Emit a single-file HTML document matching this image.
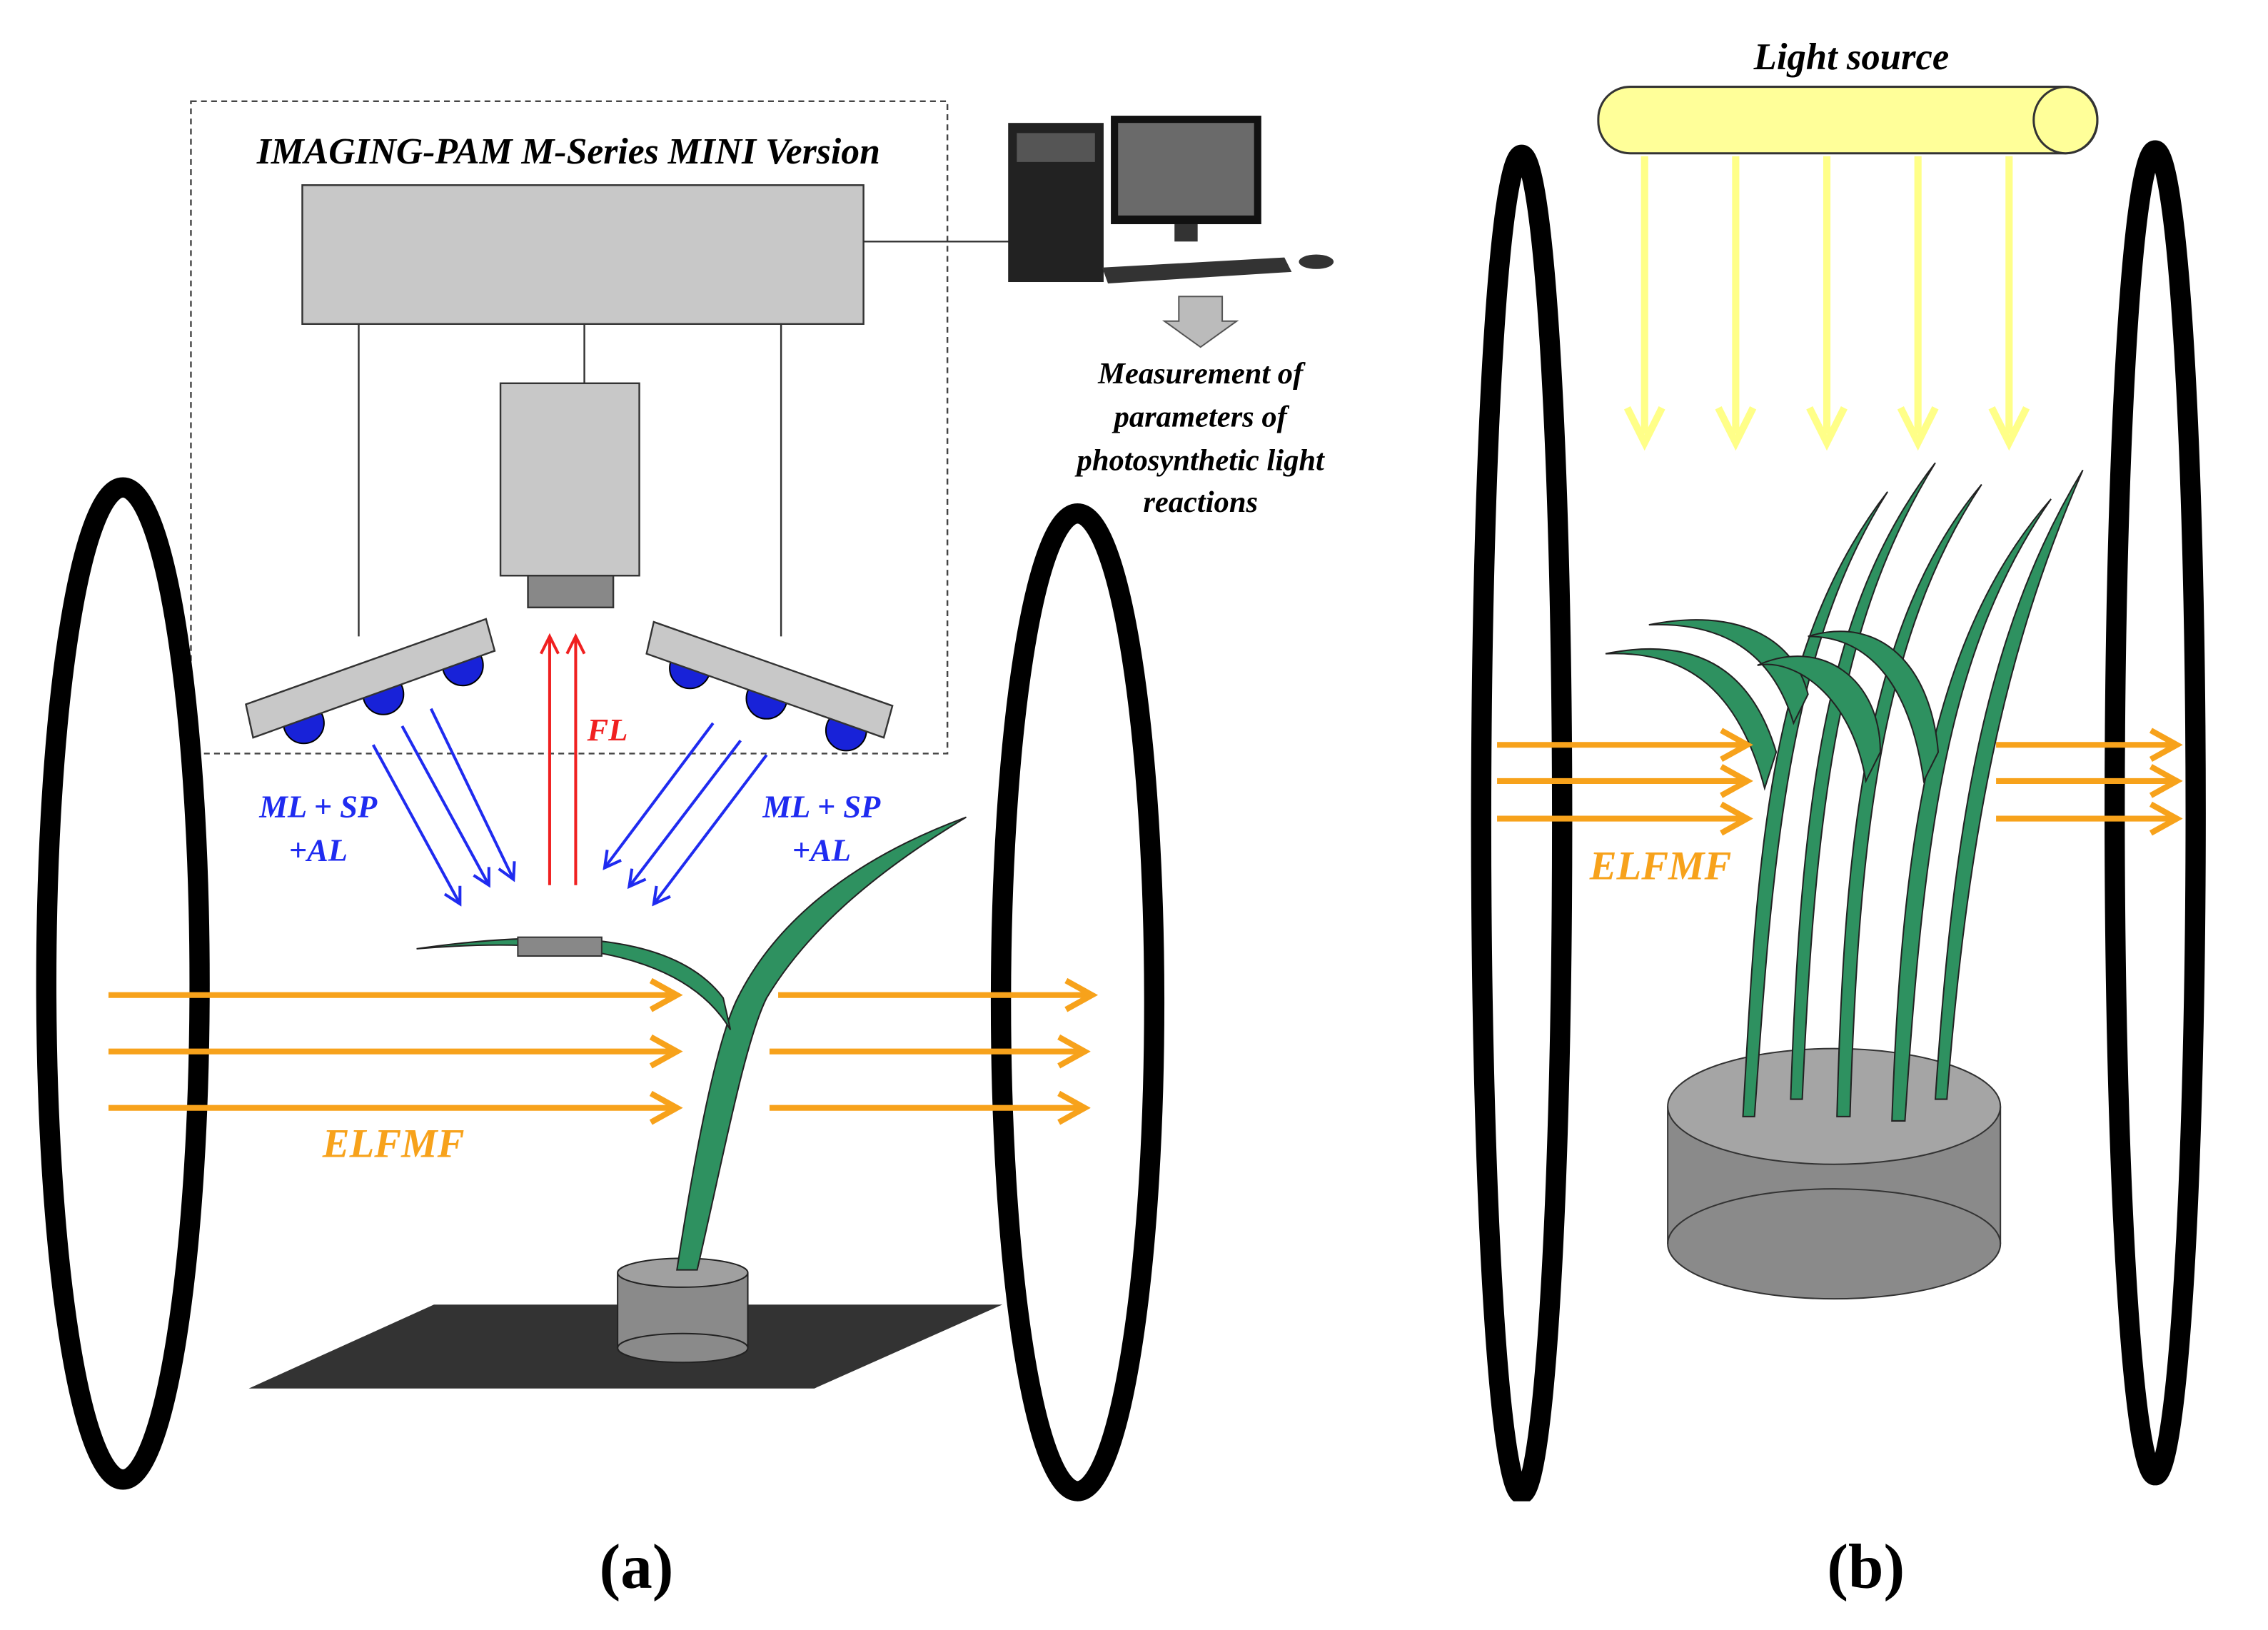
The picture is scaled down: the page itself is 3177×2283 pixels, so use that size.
<!DOCTYPE html>
<html><head><meta charset="utf-8"><style>html,body{margin:0;padding:0;background:#fff}svg{display:block}</style></head><body>
<svg width="3177" height="2283" viewBox="0 0 1568 1127" preserveAspectRatio="none" xmlns="http://www.w3.org/2000/svg" font-family="Liberation Serif, serif">
<defs>
<marker id="bl" markerWidth="14" markerHeight="14" refX="12" refY="7" orient="auto" markerUnits="userSpaceOnUse"><path d="M1,1 L12,7 L1,13" fill="none" stroke="#1f2bf0" stroke-width="2"/></marker>
<marker id="or" markerWidth="24" markerHeight="24" refX="20" refY="12" orient="auto" markerUnits="userSpaceOnUse"><path d="M2,2 L20,12 L2,22" fill="none" stroke="#f7a21b" stroke-width="4"/></marker>
</defs>
<rect x="132" y="70" width="523" height="451" fill="none" stroke="#444" stroke-width="1.2" stroke-dasharray="4,3"/>
<text x="393" y="113" text-anchor="middle" font-size="25.5" font-style="italic" font-weight="bold">IMAGING-PAM M-Series MINI Version</text>
<rect x="209" y="128" width="388" height="96" fill="#c8c8c8" stroke="#333" stroke-width="1.2"/>
<line x1="597" y1="167" x2="700" y2="167" stroke="#333" stroke-width="1.2"/>
<line x1="248" y1="224" x2="248" y2="440" stroke="#333" stroke-width="1.2"/>
<line x1="404" y1="224" x2="404" y2="265" stroke="#333" stroke-width="1.2"/>
<line x1="540" y1="224" x2="540" y2="440" stroke="#333" stroke-width="1.2"/>
<rect x="346" y="265" width="96" height="133" fill="#c8c8c8" stroke="#333" stroke-width="1.2"/>
<rect x="365" y="398" width="59" height="22" fill="#888" stroke="#333" stroke-width="1.2"/>
<circle cx="210" cy="500" r="14" fill="#1822d8" stroke="#000"/>
<circle cx="265" cy="480" r="14" fill="#1822d8" stroke="#000"/>
<circle cx="320" cy="460" r="14" fill="#1822d8" stroke="#000"/>
<polygon points="170,487 336,428 342,450 175,510" fill="#c8c8c8" stroke="#333" stroke-width="1.2"/>
<circle cx="477" cy="462" r="14" fill="#1822d8" stroke="#000"/>
<circle cx="530" cy="483" r="14" fill="#1822d8" stroke="#000"/>
<circle cx="585" cy="505" r="14" fill="#1822d8" stroke="#000"/>
<polygon points="452,430 617,488 611,510 447,452" fill="#c8c8c8" stroke="#333" stroke-width="1.2"/>
<g stroke="#1f2bf0" stroke-width="2" marker-end="url(#bl)">
<line x1="258" y1="515" x2="318" y2="625"/><line x1="278" y1="502" x2="338" y2="612"/><line x1="298" y1="490" x2="355" y2="608"/>
<line x1="493" y1="500" x2="418" y2="600"/><line x1="512" y1="512" x2="435" y2="613"/><line x1="530" y1="522" x2="452" y2="625"/>
</g>
<g stroke="#f02020" stroke-width="2"><line x1="380" y1="612" x2="380" y2="442"/><line x1="398" y1="612" x2="398" y2="442"/>
<path d="M374,452 L380,440 L386,452 M392,452 L398,440 L404,452" fill="none"/></g>
<text x="420" y="512" text-anchor="middle" font-size="22" font-style="italic" font-weight="bold" fill="#f02020">FL</text>
<g font-size="22" font-style="italic" font-weight="bold" fill="#1f2bf0" text-anchor="middle">
<text x="220" y="565">ML + SP</text><text x="220" y="595">+AL</text>
<text x="568" y="565">ML + SP</text><text x="568" y="595">+AL</text></g>
<rect x="697" y="85" width="66" height="110" fill="#222"/>
<rect x="703" y="92" width="54" height="20" fill="#555"/>
<rect x="768" y="80" width="104" height="75" fill="#111"/>
<rect x="773" y="85" width="94" height="64" fill="#6a6a6a"/>
<rect x="812" y="155" width="16" height="12" fill="#333"/>
<polygon points="762,185 888,178 893,188 766,196" fill="#333"/>
<ellipse cx="910" cy="181" rx="12" ry="5" fill="#333"/>
<polygon points="815,205 845,205 845,222 855,222 830,240 805,222 815,222" fill="#bbb" stroke="#555"/>
<g font-size="21" font-style="italic" font-weight="bold" text-anchor="middle">
<text x="830" y="265">Measurement of</text><text x="830" y="295">parameters of</text>
<text x="830" y="325">photosynthetic light</text><text x="830" y="354">reactions</text></g>
<polygon points="172,960 300,902 693,902 563,960" fill="#333"/>
<rect x="427" y="880" width="90" height="52" fill="#8a8a8a"/>
<ellipse cx="472" cy="932" rx="45" ry="10" fill="#8a8a8a" stroke="#222"/>
<line x1="427" y1="880" x2="427" y2="932" stroke="#222"/><line x1="517" y1="880" x2="517" y2="932" stroke="#222"/>
<ellipse cx="472" cy="880" rx="45" ry="10" fill="#a0a0a0" stroke="#222"/>
<path d="M468,878 C480,800 495,720 510,690 C540,630 600,590 668,565 C610,600 560,640 530,690 C515,720 500,800 482,878 Z" fill="#2e9160" stroke="#222" stroke-width="1"/>
<path d="M505,712 C480,670 420,645 288,656 C400,640 470,650 500,690 Z" fill="#2e9160" stroke="#222" stroke-width="1"/>
<rect x="358" y="648" width="58" height="13" fill="#888" stroke="#333"/>
<ellipse cx="85" cy="680" rx="53" ry="343" fill="none" stroke="#000" stroke-width="14"/>
<ellipse cx="745" cy="693" rx="53" ry="338" fill="none" stroke="#000" stroke-width="14"/>
<g stroke="#f7a21b" stroke-width="4" marker-end="url(#or)">
<line x1="75" y1="688" x2="468" y2="688"/><line x1="75" y1="727" x2="468" y2="727"/><line x1="75" y1="766" x2="468" y2="766"/>
<line x1="538" y1="688" x2="755" y2="688"/><line x1="532" y1="727" x2="750" y2="727"/><line x1="532" y1="766" x2="750" y2="766"/></g>
<text x="272" y="800" text-anchor="middle" font-size="28" font-style="italic" font-weight="bold" fill="#f7a21b">ELFMF</text>
<text x="440" y="1098" text-anchor="middle" font-size="44" font-weight="bold">(a)</text>
<text x="1280" y="48" text-anchor="middle" font-size="26" font-style="italic" font-weight="bold">Light source</text>
<rect x="1105" y="60" width="345" height="46" rx="22" fill="#ffff99" stroke="#333" stroke-width="1.5"/>
<ellipse cx="1428" cy="83" rx="22" ry="23" fill="#ffff99" stroke="#333" stroke-width="1.5"/>
<g stroke="#ffff88" stroke-width="5" fill="none">
<line x1="1137" y1="108" x2="1137" y2="300"/><line x1="1200" y1="108" x2="1200" y2="300"/><line x1="1263" y1="108" x2="1263" y2="300"/><line x1="1326" y1="108" x2="1326" y2="300"/><line x1="1389" y1="108" x2="1389" y2="300"/>
<path d="M1125,282 L1137,306 L1149,282 M1188,282 L1200,306 L1212,282 M1251,282 L1263,306 L1275,282 M1314,282 L1326,306 L1338,282 M1377,282 L1389,306 L1401,282"/></g>
<rect x="1153" y="765" width="230" height="95" fill="#8a8a8a"/>
<ellipse cx="1268" cy="860" rx="115" ry="38" fill="#8a8a8a" stroke="#333"/>
<line x1="1153" y1="765" x2="1153" y2="860" stroke="#333"/><line x1="1383" y1="765" x2="1383" y2="860" stroke="#333"/>
<ellipse cx="1268" cy="765" rx="115" ry="40" fill="#a5a5a5" stroke="#333"/>
<g fill="#2e9160" stroke="#222" stroke-width="1">
<path d="M1205,772 C1215,600 1220,450 1305,340 C1235,450 1225,600 1213,772 Z"/>
<path d="M1238,760 C1245,560 1260,420 1338,320 C1270,430 1255,560 1246,760 Z"/>
<path d="M1270,772 C1275,580 1290,430 1370,335 C1300,440 1285,580 1279,772 Z"/>
<path d="M1308,775 C1315,580 1335,440 1418,345 C1345,450 1330,580 1317,775 Z"/>
<path d="M1338,760 C1350,580 1370,440 1440,325 C1385,450 1360,580 1346,760 Z"/>
<path d="M1220,545 C1200,470 1160,450 1110,452 C1170,440 1210,460 1228,520 Z"/>
<path d="M1240,500 C1225,450 1190,430 1140,432 C1200,420 1240,440 1250,480 Z"/>
<path d="M1290,540 C1280,480 1240,455 1215,460 C1260,440 1300,470 1300,520 Z"/>
<path d="M1330,540 C1320,470 1290,440 1250,440 C1300,425 1335,460 1340,520 Z"/>
</g>
<ellipse cx="1052" cy="570" rx="28" ry="463" fill="none" stroke="#000" stroke-width="14"/>
<rect x="1020" y="1038" width="70" height="20" fill="#fff"/>
<ellipse cx="1490" cy="562" rx="28" ry="458" fill="none" stroke="#000" stroke-width="14"/>
<g stroke="#f7a21b" stroke-width="4" marker-end="url(#or)">
<line x1="1035" y1="515" x2="1208" y2="515"/><line x1="1035" y1="540" x2="1208" y2="540"/><line x1="1035" y1="566" x2="1208" y2="566"/>
<line x1="1380" y1="515" x2="1505" y2="515"/><line x1="1380" y1="540" x2="1505" y2="540"/><line x1="1380" y1="566" x2="1505" y2="566"/></g>
<text x="1148" y="608" text-anchor="middle" font-size="28" font-style="italic" font-weight="bold" fill="#f7a21b">ELFMF</text>
<text x="1290" y="1098" text-anchor="middle" font-size="44" font-weight="bold">(b)</text>
</svg>
</body></html>
